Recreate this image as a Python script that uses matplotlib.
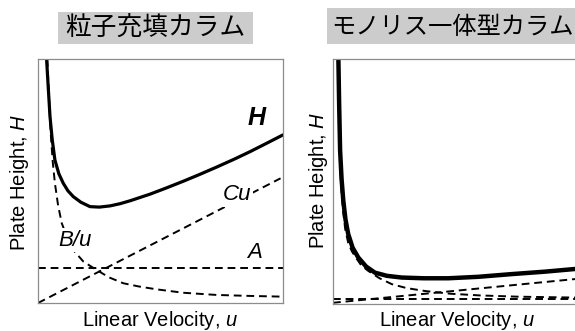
import matplotlib
matplotlib.use('Agg')
import matplotlib.pyplot as plt
from matplotlib.patches import Rectangle

plt.rcParams['font.family'] = ['Liberation Sans', 'DejaVu Sans']
plt.rcParams['mathtext.fontset'] = 'custom'
plt.rcParams['mathtext.rm'] = 'Liberation Sans'
plt.rcParams['mathtext.it'] = 'Liberation Sans:italic'

# values, both axes in % of the panel
titles = ['粒子充填カラム', 'モノリス一体型カラム']
xlabel = 'Linear Velocity, $u$'
ylabel = 'Plate Height, $H$'

packed_h_x = [3.5, 4.2, 4.9, 5.8, 6.9, 8.5, 10.3, 12.2, 14.4, 17.5, 21.2, 25, 29.4, 33.5,
              37.6, 45.7, 52, 59.3, 66, 72.9, 80, 86.5, 93, 100]
packed_h_y = [100, 88, 76.4, 67, 58.6, 53, 49.1, 46, 43.6, 41.3, 39.5, 39.3, 39.8, 40.7,
              41.9, 44.6, 47.0, 49.9, 52.7, 55.7, 58.9, 62.0, 65.3, 68.9]
packed_b_x = [3.8, 4.5, 5.2, 6.0, 6.9, 8.2, 9.7, 12, 14.4, 18.5, 24, 29, 34.8, 41, 48.4,
              59.3, 72.9, 86.5, 100]
packed_b_y = [100, 84, 69.5, 58, 49.1, 40, 32.7, 26.5, 21.7, 17, 13.5, 10.5, 8.1, 6.8, 5.6,
              4.2, 3.3, 2.9, 2.6]
packed_c_x = [0, 99]
packed_c_y = [0, 51.1]
packed_a_x = [0, 100]
packed_a_y = [14.5, 14.5]

mono_h_x = [2.2, 2.5, 2.9, 3.5, 4.2, 5.1, 6.2, 8, 10.3, 13.5, 17.1, 22, 28, 37, 47, 59.3,
            72.9, 86.5, 100]
mono_h_y = [100, 82, 62.7, 51, 42.2, 34.5, 28.6, 23, 19.0, 15.3, 12.8, 11.5, 10.8, 10.5,
            10.5, 11.1, 12.2, 13.2, 14.4]
mono_b_x = [2.0, 2.4, 2.8, 3.4, 4.1, 5.0, 6.2, 7.7, 9.3, 11.5, 14.4, 19, 24, 30, 37.6,
            47.8, 60, 75, 100]
mono_b_y = [100, 80, 60, 47, 38, 30.5, 25, 21.5, 19, 15.8, 13.5, 10.5, 8.1, 6.5, 5.3,
            4.2, 3.5, 3.0, 2.6]
mono_c_x = [0, 100]
mono_c_y = [0.5, 10.3]
mono_a_x = [0, 100]
mono_a_y = [2.0, 2.0]

W, H = 575, 331
fig = plt.figure(figsize=(W / 100, H / 100), dpi=100)


def px_box(x0, y0, x1, y1):
    # pixel box (top-left origin) -> figure fraction rect
    return [x0 / W, 1 - y1 / H, (x1 - x0) / W, (y1 - y0) / H]


def setup(ax, right_spine=True):
    ax.set_xlim(0, 100)
    ax.set_ylim(0, 100)
    ax.set_xticks([])
    ax.set_yticks([])
    for name, sp in ax.spines.items():
        sp.set_color('#8c8c8c')
        sp.set_linewidth(0.9)
    ax.spines['right'].set_visible(right_spine)


dash = dict(color='black', lw=1.4, ls=(0, (4, 2.5)))

ax1 = fig.add_axes(px_box(38, 59, 283, 303))
setup(ax1)
ax1.plot(packed_a_x, packed_a_y, **dash)
ax1.plot(packed_c_x, packed_c_y, **dash)
ax1.plot(packed_b_x, packed_b_y, **dash)
ax1.plot(packed_h_x, packed_h_y, color='black', lw=2.3, solid_capstyle='round')
white = dict(facecolor='white', edgecolor='none', pad=1)
ax1.text(89.4, 75.8, 'H', fontsize=18, fontweight='bold', fontstyle='italic',
         ha='center', va='center')
ax1.text(81.2, 44.3, 'Cu', fontsize=16, fontstyle='italic', ha='center', va='center', bbox=white)
ax1.text(88.2, 20.9, 'A', fontsize=16, fontstyle='italic', ha='center', va='center')
ax1.text(15.1, 25.8, 'B/u', fontsize=16, fontstyle='italic', ha='center', va='center', bbox=white)

ax2 = fig.add_axes(px_box(333, 59, 578, 304))
setup(ax2, right_spine=False)
ax2.plot(mono_a_x, mono_a_y, **dash)
ax2.plot(mono_c_x, mono_c_y, **dash)
ax2.plot(mono_b_x, mono_b_y, **dash)
ax2.plot(mono_h_x, mono_h_y, color='black', lw=3.2, solid_capstyle='round')

# title boxes
for (x0, y0, x1, y1), (tx, ty), size, title in [((58, 12, 253, 44), (155, 28.5), 18.5, titles[0]),
                                                ((327, 8, 580, 44), (452, 26.5), 17.5, titles[1])]:
    r = px_box(x0, y0, x1, y1)
    fig.add_artist(Rectangle((r[0], r[1]), r[2], r[3], transform=fig.transFigure,
                             facecolor='#cccccc', edgecolor='none'))
    fig.text(tx / W, 1 - ty / H, title, fontsize=size, ha='center', va='center',
             family=['Noto Sans CJK JP', 'DejaVu Sans'])

fig.text(20 / W, 1 - 182 / H, ylabel, rotation=90, fontsize=14.5, ha='center', va='center')
fig.text(318 / W, 1 - 180 / H, ylabel, rotation=90, fontsize=14.5, ha='center', va='center')
fig.text(160 / W, 1 - 321 / H, xlabel, fontsize=14.5, ha='center', va='center')
fig.text(457 / W, 1 - 321 / H, xlabel, fontsize=14.5, ha='center', va='center')

fig.savefig('out.png', dpi=100)
